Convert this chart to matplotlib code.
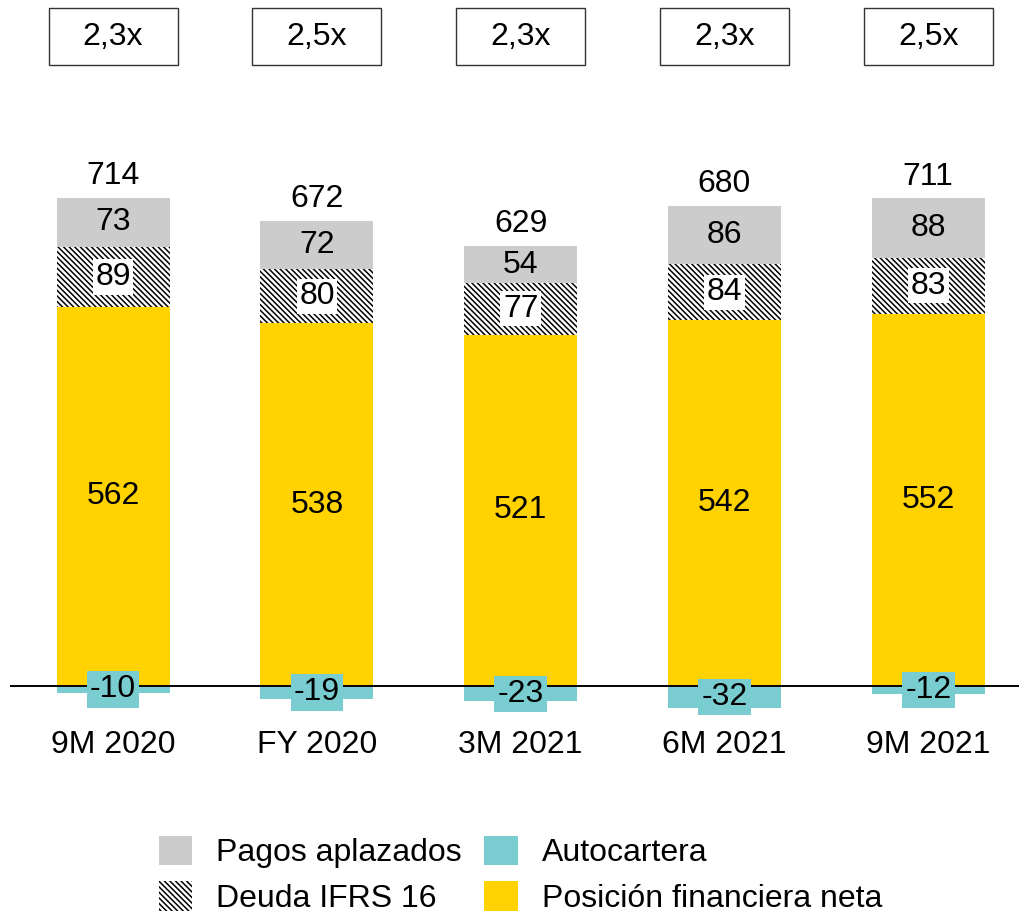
import matplotlib.pyplot as plt
import matplotlib.transforms as mtransforms
from matplotlib.patches import Rectangle, Patch
import numpy as np

plt.rcParams['font.family'] = ['Liberation Sans', 'DejaVu Sans']
plt.rcParams['hatch.linewidth'] = 1.1

periodos = ['9M 2020', 'FY 2020', '3M 2021', '6M 2021', '9M 2021']
pfn = [562, 538, 521, 542, 552]
ifrs16 = [89, 80, 77, 84, 83]
aplazados = [73, 72, 54, 86, 88]
autocartera = [-10, -19, -23, -32, -12]
totales = [714, 672, 629, 680, 711]
ratios = ['2,3x', '2,5x', '2,3x', '2,3x', '2,5x']

c_gris = '#CCCCCC'
c_amarillo = '#FFD200'
c_cian = '#79CCCF'
fs = 23
rayado = '\\' * 6

fig = plt.figure(figsize=(10.2, 9.14), dpi=100)
ax = fig.add_axes([0.0098, 0.2123, 0.9902, 0.6237])

x = np.arange(len(periodos))
w = 0.555
pfn = np.array(pfn)
ifrs16 = np.array(ifrs16)

ax.bar(x, pfn, w, color=c_amarillo, zorder=2)
ax.bar(x, ifrs16, w, bottom=pfn, color='white', edgecolor='black',
       hatch=rayado, linewidth=0, zorder=2)
ax.bar(x, aplazados, w, bottom=pfn + ifrs16, color=c_gris, zorder=2)
ax.bar(x, autocartera, w, color=c_cian, zorder=2)
ax.axhline(0, color='black', lw=1.4, zorder=3)

for i in range(len(x)):
    ax.text(x[i], pfn[i] / 2, str(pfn[i]), ha='center', va='center', fontsize=fs, zorder=5)
    ax.text(x[i], pfn[i] + ifrs16[i] / 2, str(ifrs16[i]), ha='center', va='center',
            fontsize=fs, zorder=5,
            bbox=dict(boxstyle='square,pad=0.08', fc='white', ec='none'))
    ax.text(x[i], pfn[i] + ifrs16[i] + aplazados[i] / 2, str(aplazados[i]),
            ha='center', va='center', fontsize=fs, zorder=5)
    ax.text(x[i], autocartera[i] / 2, str(autocartera[i]), ha='center', va='center',
            fontsize=fs, zorder=5,
            bbox=dict(boxstyle='square,pad=0.1', fc=c_cian, ec='none'))
    top = pfn[i] + ifrs16[i] + aplazados[i]
    ax.annotate(str(totales[i]), (x[i], top), xytext=(0, 5), textcoords='offset points',
                ha='center', va='bottom', fontsize=fs)
    ax.text(x[i], -88, periodos[i], ha='center', va='center', fontsize=fs, clip_on=False)

ax.set_xlim(-0.506, 4.45)
ax.set_ylim(-50.4, 795)
ax.axis('off')

# cajas con el ratio
trans = mtransforms.blended_transform_factory(ax.transData, fig.transFigure)
bw = 0.633
for i in range(len(x)):
    ax.add_patch(Rectangle((x[i] - bw / 2, 0.929), bw, 0.062, transform=trans,
                           fc='white', ec='#333333', lw=1, clip_on=False))
    ax.text(x[i], 0.96, ratios[i], transform=trans, ha='center', va='center', fontsize=fs)

handles = [Patch(fc=c_gris, ec='none'),
           Patch(fc='white', ec='black', hatch=rayado, lw=0),
           Patch(fc=c_cian, ec='none'),
           Patch(fc=c_amarillo, ec='none')]
labels = ['Pagos aplazados', 'Deuda IFRS 16', 'Autocartera', 'Posición financiera neta']
fig.legend(handles, labels, ncol=2, loc='center', bbox_to_anchor=(0.51, 0.043),
           frameon=False, fontsize=fs, handlelength=1.05, handleheight=1.05,
           handletextpad=0.75, columnspacing=0.7, labelspacing=0.4,
           borderpad=0, borderaxespad=0)

fig.savefig('out.png', dpi=100)
